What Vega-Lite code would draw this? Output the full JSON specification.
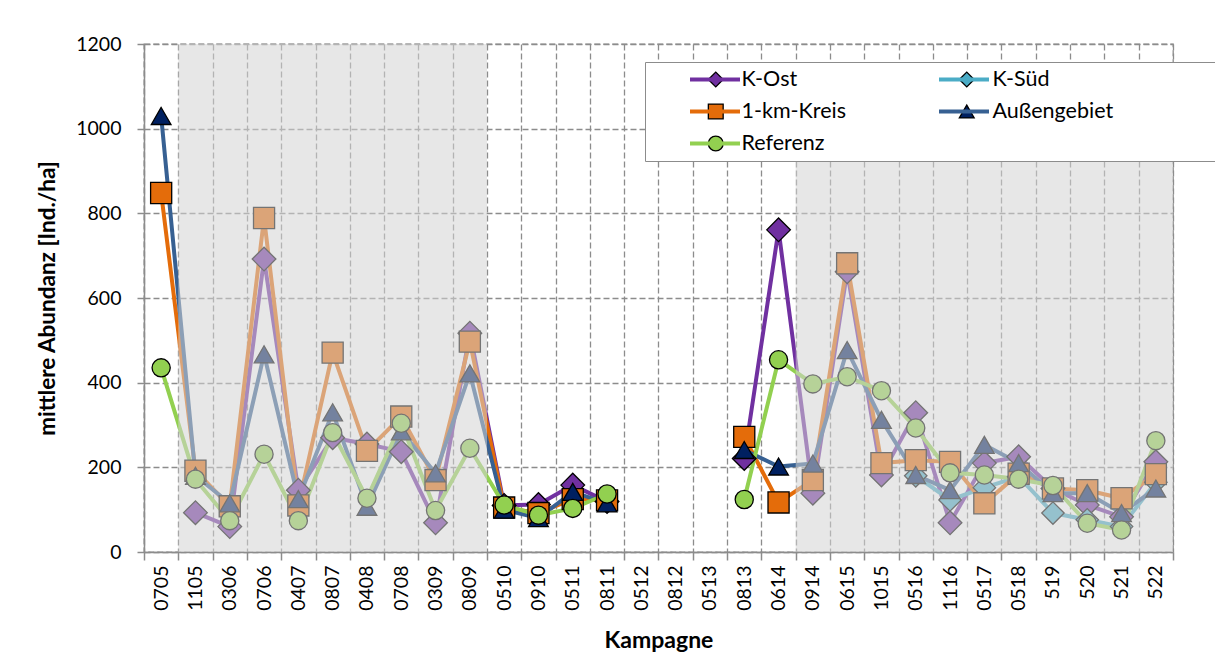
{
  "$schema": "https://vega.github.io/schema/vega-lite/v6.json",
  "width": 1029,
  "height": 508,
  "autosize": {"type": "none"},
  "padding": {"left": 144, "top": 44, "right": 42, "bottom": 115},
  "background": "white",
  "config": {
    "font": "Lato",
    "view": {"stroke": "#8c8c8c", "strokeDash": [6, 3], "strokeWidth": 1.3},
    "axisX": {
      "tickBand": "extent",
      "grid": true,
      "gridDash": [6, 3],
      "gridColor": "#8c8c8c",
      "gridWidth": 1.3,
      "domainColor": "#8c8c8c",
      "domainWidth": 1.5,
      "tickColor": "#8c8c8c",
      "tickSize": 8,
      "tickWidth": 1.5,
      "labelAngle": -90,
      "labelFontSize": 19.5,
      "labelColor": "black",
      "labelPadding": 5,
      "titleFontSize": 23,
      "titleFontWeight": "bold",
      "titleColor": "black",
      "titlePadding": 19
    },
    "axisY": {
      "grid": true,
      "gridDash": [6, 3],
      "gridColor": "#8c8c8c",
      "gridWidth": 1.3,
      "domainColor": "#8c8c8c",
      "domainWidth": 1.5,
      "tickColor": "#8c8c8c",
      "tickSize": 7,
      "tickWidth": 1.5,
      "labelFontSize": 19.5,
      "labelColor": "black",
      "labelPadding": 16,
      "titleFontSize": 22.5,
      "titleFontWeight": "bold",
      "titleColor": "black",
      "titlePadding": 16
    }
  },
  "datasets": {
    "main": [
      {"Kampagne": "1105", "Serie": "K-Ost", "Wert": 93},
      {"Kampagne": "0306", "Serie": "K-Ost", "Wert": 60},
      {"Kampagne": "0706", "Serie": "K-Ost", "Wert": 692},
      {"Kampagne": "0407", "Serie": "K-Ost", "Wert": 146},
      {"Kampagne": "0807", "Serie": "K-Ost", "Wert": 270},
      {"Kampagne": "0408", "Serie": "K-Ost", "Wert": 255},
      {"Kampagne": "0708", "Serie": "K-Ost", "Wert": 237},
      {"Kampagne": "0309", "Serie": "K-Ost", "Wert": 69},
      {"Kampagne": "0809", "Serie": "K-Ost", "Wert": 517},
      {"Kampagne": "0510", "Serie": "K-Ost", "Wert": 110},
      {"Kampagne": "0910", "Serie": "K-Ost", "Wert": 112},
      {"Kampagne": "0511", "Serie": "K-Ost", "Wert": 158},
      {"Kampagne": "0811", "Serie": "K-Ost", "Wert": 119},
      {"Kampagne": "0512", "Serie": "K-Ost", "Wert": null},
      {"Kampagne": "0813", "Serie": "K-Ost", "Wert": 221},
      {"Kampagne": "0614", "Serie": "K-Ost", "Wert": 761},
      {"Kampagne": "0914", "Serie": "K-Ost", "Wert": 139},
      {"Kampagne": "0615", "Serie": "K-Ost", "Wert": 662},
      {"Kampagne": "1015", "Serie": "K-Ost", "Wert": 182},
      {"Kampagne": "0516", "Serie": "K-Ost", "Wert": 329},
      {"Kampagne": "1116", "Serie": "K-Ost", "Wert": 69},
      {"Kampagne": "0517", "Serie": "K-Ost", "Wert": 210},
      {"Kampagne": "0518", "Serie": "K-Ost", "Wert": 225},
      {"Kampagne": "519", "Serie": "K-Ost", "Wert": 150},
      {"Kampagne": "520", "Serie": "K-Ost", "Wert": 111},
      {"Kampagne": "521", "Serie": "K-Ost", "Wert": 83},
      {"Kampagne": "522", "Serie": "K-Ost", "Wert": 213},

      {"Kampagne": "0516", "Serie": "K-Süd", "Wert": 180},
      {"Kampagne": "1116", "Serie": "K-Süd", "Wert": 123},
      {"Kampagne": "0517", "Serie": "K-Süd", "Wert": 152},
      {"Kampagne": "0518", "Serie": "K-Süd", "Wert": 178},
      {"Kampagne": "519", "Serie": "K-Süd", "Wert": 92},
      {"Kampagne": "520", "Serie": "K-Süd", "Wert": 76},
      {"Kampagne": "521", "Serie": "K-Süd", "Wert": 60},
      {"Kampagne": "522", "Serie": "K-Süd", "Wert": 165},

      {"Kampagne": "0705", "Serie": "1-km-Kreis", "Wert": 848},
      {"Kampagne": "1105", "Serie": "1-km-Kreis", "Wert": 192},
      {"Kampagne": "0306", "Serie": "1-km-Kreis", "Wert": 108},
      {"Kampagne": "0706", "Serie": "1-km-Kreis", "Wert": 789},
      {"Kampagne": "0407", "Serie": "1-km-Kreis", "Wert": 110},
      {"Kampagne": "0807", "Serie": "1-km-Kreis", "Wert": 471},
      {"Kampagne": "0408", "Serie": "1-km-Kreis", "Wert": 239},
      {"Kampagne": "0708", "Serie": "1-km-Kreis", "Wert": 320},
      {"Kampagne": "0309", "Serie": "1-km-Kreis", "Wert": 170},
      {"Kampagne": "0809", "Serie": "1-km-Kreis", "Wert": 497},
      {"Kampagne": "0510", "Serie": "1-km-Kreis", "Wert": 105},
      {"Kampagne": "0910", "Serie": "1-km-Kreis", "Wert": 92},
      {"Kampagne": "0511", "Serie": "1-km-Kreis", "Wert": 125},
      {"Kampagne": "0811", "Serie": "1-km-Kreis", "Wert": 122},
      {"Kampagne": "0512", "Serie": "1-km-Kreis", "Wert": null},
      {"Kampagne": "0813", "Serie": "1-km-Kreis", "Wert": 272},
      {"Kampagne": "0614", "Serie": "1-km-Kreis", "Wert": 117},
      {"Kampagne": "0914", "Serie": "1-km-Kreis", "Wert": 170},
      {"Kampagne": "0615", "Serie": "1-km-Kreis", "Wert": 682},
      {"Kampagne": "1015", "Serie": "1-km-Kreis", "Wert": 210},
      {"Kampagne": "0516", "Serie": "1-km-Kreis", "Wert": 217},
      {"Kampagne": "1116", "Serie": "1-km-Kreis", "Wert": 213},
      {"Kampagne": "0517", "Serie": "1-km-Kreis", "Wert": 115},
      {"Kampagne": "0518", "Serie": "1-km-Kreis", "Wert": 185},
      {"Kampagne": "519", "Serie": "1-km-Kreis", "Wert": 150},
      {"Kampagne": "520", "Serie": "1-km-Kreis", "Wert": 146},
      {"Kampagne": "521", "Serie": "1-km-Kreis", "Wert": 127},
      {"Kampagne": "522", "Serie": "1-km-Kreis", "Wert": 184},

      {"Kampagne": "0705", "Serie": "Außengebiet", "Wert": 1030},
      {"Kampagne": "1105", "Serie": "Außengebiet", "Wert": 180},
      {"Kampagne": "0306", "Serie": "Außengebiet", "Wert": 115},
      {"Kampagne": "0706", "Serie": "Außengebiet", "Wert": 467},
      {"Kampagne": "0407", "Serie": "Außengebiet", "Wert": 125},
      {"Kampagne": "0807", "Serie": "Außengebiet", "Wert": 330},
      {"Kampagne": "0408", "Serie": "Außengebiet", "Wert": 107},
      {"Kampagne": "0708", "Serie": "Außengebiet", "Wert": 285},
      {"Kampagne": "0309", "Serie": "Außengebiet", "Wert": 186},
      {"Kampagne": "0809", "Serie": "Außengebiet", "Wert": 422},
      {"Kampagne": "0510", "Serie": "Außengebiet", "Wert": 100},
      {"Kampagne": "0910", "Serie": "Außengebiet", "Wert": 80},
      {"Kampagne": "0511", "Serie": "Außengebiet", "Wert": 142},
      {"Kampagne": "0811", "Serie": "Außengebiet", "Wert": 115},
      {"Kampagne": "0512", "Serie": "Außengebiet", "Wert": null},
      {"Kampagne": "0813", "Serie": "Außengebiet", "Wert": 241},
      {"Kampagne": "0614", "Serie": "Außengebiet", "Wert": 202},
      {"Kampagne": "0914", "Serie": "Außengebiet", "Wert": 209},
      {"Kampagne": "0615", "Serie": "Außengebiet", "Wert": 477},
      {"Kampagne": "1015", "Serie": "Außengebiet", "Wert": 312},
      {"Kampagne": "0516", "Serie": "Außengebiet", "Wert": 182},
      {"Kampagne": "1116", "Serie": "Außengebiet", "Wert": 146},
      {"Kampagne": "0517", "Serie": "Außengebiet", "Wert": 253},
      {"Kampagne": "0518", "Serie": "Außengebiet", "Wert": 210},
      {"Kampagne": "519", "Serie": "Außengebiet", "Wert": 139},
      {"Kampagne": "520", "Serie": "Außengebiet", "Wert": 139},
      {"Kampagne": "521", "Serie": "Außengebiet", "Wert": 92},
      {"Kampagne": "522", "Serie": "Außengebiet", "Wert": 150},

      {"Kampagne": "0705", "Serie": "Referenz", "Wert": 435},
      {"Kampagne": "1105", "Serie": "Referenz", "Wert": 172},
      {"Kampagne": "0306", "Serie": "Referenz", "Wert": 74},
      {"Kampagne": "0706", "Serie": "Referenz", "Wert": 231},
      {"Kampagne": "0407", "Serie": "Referenz", "Wert": 74},
      {"Kampagne": "0807", "Serie": "Referenz", "Wert": 282},
      {"Kampagne": "0408", "Serie": "Referenz", "Wert": 127},
      {"Kampagne": "0708", "Serie": "Referenz", "Wert": 304},
      {"Kampagne": "0309", "Serie": "Referenz", "Wert": 98},
      {"Kampagne": "0809", "Serie": "Referenz", "Wert": 245},
      {"Kampagne": "0510", "Serie": "Referenz", "Wert": 111},
      {"Kampagne": "0910", "Serie": "Referenz", "Wert": 87},
      {"Kampagne": "0511", "Serie": "Referenz", "Wert": 103},
      {"Kampagne": "0811", "Serie": "Referenz", "Wert": 137},
      {"Kampagne": "0512", "Serie": "Referenz", "Wert": null},
      {"Kampagne": "0813", "Serie": "Referenz", "Wert": 124},
      {"Kampagne": "0614", "Serie": "Referenz", "Wert": 454},
      {"Kampagne": "0914", "Serie": "Referenz", "Wert": 397},
      {"Kampagne": "0615", "Serie": "Referenz", "Wert": 414},
      {"Kampagne": "1015", "Serie": "Referenz", "Wert": 381},
      {"Kampagne": "0516", "Serie": "Referenz", "Wert": 293},
      {"Kampagne": "1116", "Serie": "Referenz", "Wert": 187},
      {"Kampagne": "0517", "Serie": "Referenz", "Wert": 182},
      {"Kampagne": "0518", "Serie": "Referenz", "Wert": 172},
      {"Kampagne": "519", "Serie": "Referenz", "Wert": 157},
      {"Kampagne": "520", "Serie": "Referenz", "Wert": 68},
      {"Kampagne": "521", "Serie": "Referenz", "Wert": 52},
      {"Kampagne": "522", "Serie": "Referenz", "Wert": 263}
    ],
    "shade": [
      {"von": "1105", "bis": "0809", "oben": 1200},
      {"von": "0914", "bis": "522", "oben": 930}
    ]
  },
  "layer": [
    {
      "data": {"name": "main"},
      "mark": {"type": "line", "strokeWidth": 4, "invalid": "break-paths-filter-domains"},
      "encoding": {
        "x": {
          "field": "Kampagne",
          "type": "nominal",
          "title": "Kampagne",
          "scale": {
            "type": "band",
            "paddingInner": 0,
            "paddingOuter": 0,
            "domain": ["0705","1105","0306","0706","0407","0807","0408","0708","0309","0809","0510","0910","0511","0811","0512","0812","0513","0813","0614","0914","0615","1015","0516","1116","0517","0518","519","520","521","522"]
          }
        },
        "y": {
          "field": "Wert",
          "type": "quantitative",
          "title": "mittlere Abundanz [Ind./ha]",
          "scale": {"domain": [0, 1200], "nice": false},
          "axis": {"values": [0, 200, 400, 600, 800, 1000, 1200], "format": "d"}
        },
        "color": {
          "field": "Serie",
          "type": "nominal",
          "sort": ["K-Ost", "K-Süd", "1-km-Kreis", "Außengebiet", "Referenz"],
          "scale": {
            "range": ["#7030A0", "#4BACC6", "#E46C0A", "#376092", "#92D050"]
          },
          "legend": {
            "title": null,
            "orient": "none",
            "legendX": 501,
            "legendY": 18,
            "direction": "horizontal",
            "columns": 2,
            "columnPadding": 158,
            "rowPadding": 10,
            "padding": 6.5,
            "clipHeight": 22,
            "zindex": 2,
            "symbolType": "stroke",
            "symbolSize": 2500,
            "symbolStrokeWidth": 4,
            "symbolOffset": 36.5,
            "labelOffset": 0,
            "labelFontSize": 21.5,
            "labelExpr": "''"
          }
        }
      }
    },
    {
      "data": {"name": "main"},
      "mark": {"type": "point", "filled": true, "opacity": 1, "stroke": "black", "strokeWidth": 1.3},
      "encoding": {
        "x": {"field": "Kampagne", "type": "nominal"},
        "y": {"field": "Wert", "type": "quantitative"},
        "fill": {
          "field": "Serie",
          "type": "nominal",
          "scale": {
            "domain": ["K-Ost", "K-Süd", "1-km-Kreis", "Außengebiet", "Referenz"],
            "range": ["#7030A0", "#4BACC6", "#E46C0A", "#002060", "#92D050"]
          },
          "legend": {
            "title": null,
            "orient": "none",
            "legendX": 501,
            "legendY": 18,
            "direction": "horizontal",
            "columns": 2,
            "columnPadding": 56,
            "rowPadding": 10,
            "padding": 6.5,
            "clipHeight": 22,
            "zindex": 1,
            "fillColor": "white",
            "strokeColor": "#8c8c8c",
            "symbolSize": 220,
            "symbolOpacity": 1,
            "symbolStrokeColor": "black",
            "symbolStrokeWidth": 1.3,
            "symbolOffset": 53.5,
            "labelOffset": 15,
            "labelFontSize": 21.5,
            "labelLimit": 400,
            "labelColor": "black",
            "labelExpr": "datum.value == 'Außengebiet' ? 'Außengebiet\u2800\u2800\u2800\u2800\u2800\u2800' : datum.label"
          }
        },
        "shape": {
          "field": "Serie",
          "type": "nominal",
          "scale": {
            "domain": ["K-Ost", "K-Süd", "1-km-Kreis", "Außengebiet", "Referenz"],
            "range": ["diamond", "diamond", "square", "triangle-up", "circle"]
          },
          "legend": {
            "title": null,
            "orient": "none",
            "legendX": 501,
            "legendY": 18,
            "direction": "horizontal",
            "columns": 2
          }
        },
        "size": {
          "field": "Serie",
          "type": "nominal",
          "sort": ["K-Ost", "K-Süd", "1-km-Kreis", "Außengebiet", "Referenz"],
          "scale": {"range": [560, 330, 310, 430, 400]},
          "legend": null
        }
      }
    },
    {
      "data": {"name": "shade"},
      "mark": {"type": "rect", "color": "#d4d4d4", "opacity": 0.55},
      "encoding": {
        "x": {"field": "von", "type": "nominal", "bandPosition": 0},
        "x2": {"field": "bis", "bandPosition": 1},
        "y": {"field": "oben", "type": "quantitative"},
        "y2": {"datum": 0}
      }
    }
  ]
}
